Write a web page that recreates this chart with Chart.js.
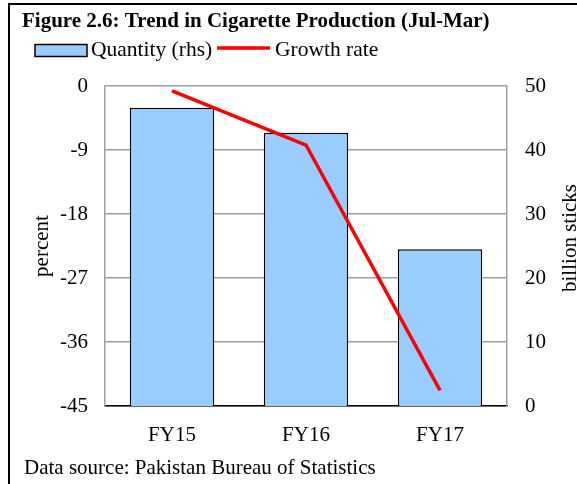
<!DOCTYPE html>
<html>
<head>
<meta charset="utf-8">
<script src="https://cdn.jsdelivr.net/npm/chart.js@4/dist/chart.umd.min.js"></script>
<style>
  html, body { margin: 0; padding: 0; background: #fff; }
  canvas { display: block; }
</style>
</head>
<body>
<canvas id="c" width="577" height="484"></canvas>
<script>
const categories = ['FY15', 'FY16', 'FY17'];
const quantity = [46.6, 42.7, 24.5];      // billion sticks (rhs)
const growthRate = [-0.7, -8.3, -42.8];   // percent (lhs)
const leftTicks = [0, -9, -18, -27, -36, -45];
const rightTicks = [50, 40, 30, 20, 10, 0];

const titleText = 'Figure 2.6: Trend in Cigarette Production (Jul-Mar)';
const sourceText = 'Data source: Pakistan Bureau of Statistics';
const FONT = "'Liberation Serif', 'Times New Roman', serif";

Chart.defaults.font.family = FONT;
Chart.defaults.font.size = 21;
Chart.defaults.color = '#000';

const decor = {
  id: 'decor',
  afterDraw(chart) {
    const ctx = chart.ctx;
    ctx.save();
    // outer frame
    ctx.strokeStyle = '#000';
    ctx.lineWidth = 2;
    ctx.strokeRect(9, 4, 700, 700);
    // title
    ctx.fillStyle = '#000';
    ctx.textBaseline = 'alphabetic';
    ctx.textAlign = 'left';
    ctx.font = 'bold 21px ' + FONT;
    ctx.fillText(titleText, 22, 27);
    // legend
    ctx.font = '21.5px ' + FONT;
    ctx.fillStyle = '#99CCFF';
    ctx.fillRect(35, 44.5, 52, 12);
    ctx.strokeStyle = '#000';
    ctx.lineWidth = 1.5;
    ctx.strokeRect(35, 44.5, 52, 12);
    ctx.fillStyle = '#000';
    ctx.fillText(chart.data.datasets[1].label, 91, 56);
    ctx.strokeStyle = '#FF0000';
    ctx.lineWidth = 3.5;
    ctx.beginPath();
    ctx.moveTo(217, 48);
    ctx.lineTo(270, 48);
    ctx.stroke();
    ctx.fillText(chart.data.datasets[0].label, 275, 56);
    // footer
    ctx.font = '21px ' + FONT;
    ctx.fillText(sourceText, 24, 474);
    // right axis title (bottom-to-top)
    ctx.translate(576, 238);
    ctx.rotate(-Math.PI / 2);
    ctx.textAlign = 'center';
    ctx.fillText('billion sticks', 0, 0);
    ctx.restore();
  }
};

new Chart(document.getElementById('c'), {
  data: {
    labels: categories,
    datasets: [
      {
        type: 'line',
        label: 'Growth rate',
        data: growthRate,
        yAxisID: 'y',
        borderColor: '#FF0000',
        backgroundColor: '#FF0000',
        borderWidth: 3.5,
        pointRadius: 0,
        tension: 0,
        order: 0
      },
      {
        type: 'bar',
        label: 'Quantity (rhs)',
        data: quantity,
        yAxisID: 'y1',
        backgroundColor: '#99CCFF',
        borderColor: '#000',
        borderWidth: 1.5,
        barPercentage: 0.63,
        categoryPercentage: 1.0,
        order: 1
      }
    ]
  },
  options: {
    responsive: false,
    animation: false,
    layout: { padding: { top: 86, bottom: 28, left: 0, right: 0 } },
    plugins: {
      legend: { display: false },
      title: { display: false },
      tooltip: { enabled: false }
    },
    scales: {
      x: {
        offset: true,
        grid: { display: false, drawTicks: false },
        border: { display: true, color: '#000', width: 1.5 },
        ticks: { padding: 17 },
        afterFit(s) { s.height = 50; }
      },
      y: {
        position: 'left',
        min: -45, max: 0,
        afterBuildTicks(s) { s.ticks = leftTicks.map(v => ({ value: v })); },
        grid: { color: '#A0A0A0', lineWidth: 1.5, drawTicks: false },
        border: { display: true, color: '#A0A0A0', width: 1.5 },
        ticks: { padding: 17 },
        title: { display: true, text: 'percent', padding: { top: 30, bottom: 0 } },
        afterFit(s) { s.width = 105; }
      },
      y1: {
        position: 'right',
        min: 0, max: 50,
        afterBuildTicks(s) { s.ticks = rightTicks.map(v => ({ value: v })); },
        grid: { display: false, drawTicks: false },
        border: { display: true, color: '#A0A0A0', width: 1.5 },
        ticks: { padding: 18 },
        afterFit(s) { s.width = 70; }
      }
    }
  },
  plugins: [decor]
});
</script>
</body>
</html>
